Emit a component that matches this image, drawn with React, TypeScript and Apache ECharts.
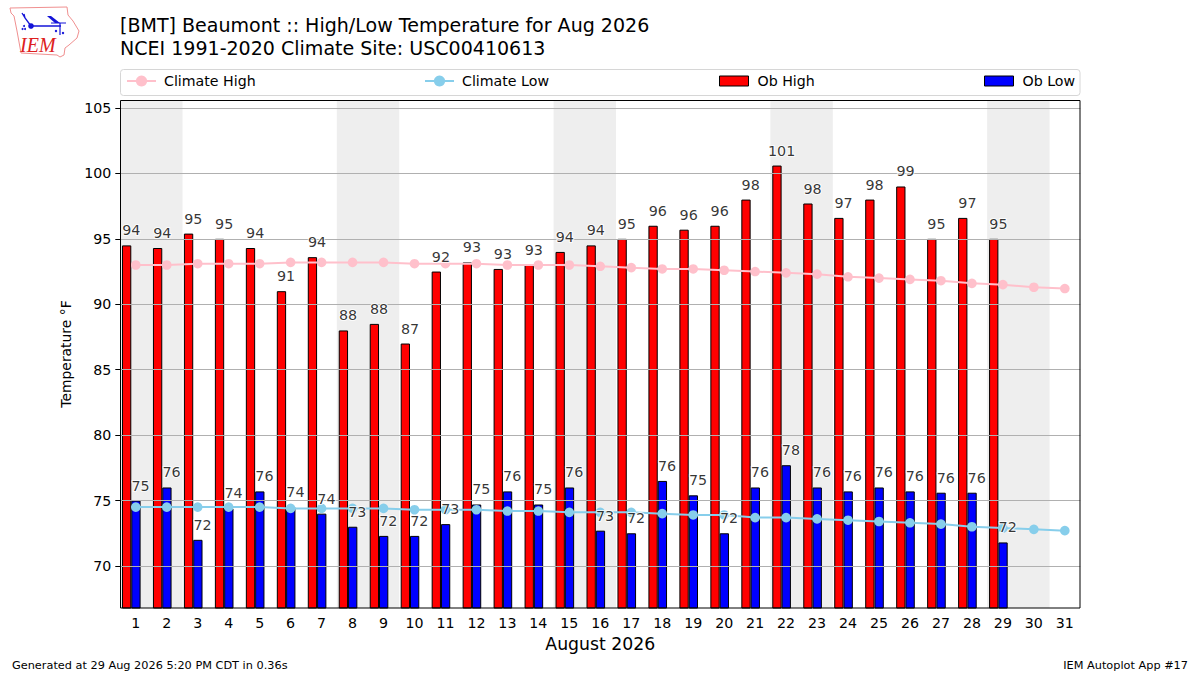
import React, { useEffect, useRef } from "react";
import * as echarts from "echarts";

const days = ["1","2","3","4","5","6","7","8","9","10","11","12","13","14","15","16","17","18","19","20","21","22","23","24","25","26","27","28","29","30","31"];
const weekendDays = ["1","2","8","9","15","16","22","23","29","30"];
const obHigh = [94.5,94.3,95.4,95.0,94.3,91.0,93.6,88.0,88.5,87.0,92.5,93.2,92.7,93.0,94.0,94.5,95.0,96.0,95.7,96.0,98.0,100.6,97.7,96.6,98.0,99.0,95.0,96.6,95.0,null,null];
const obLow = [75.0,76.0,72.0,74.4,75.7,74.5,74.0,73.0,72.3,72.3,73.2,74.7,75.7,74.7,76.0,72.7,72.5,76.5,75.4,72.5,76.0,77.7,76.0,75.7,76.0,75.7,75.6,75.6,71.8,null,null];
const highLabels = [94,94,95,95,94,91,94,88,88,87,92,93,93,93,94,94,95,96,96,96,98,101,98,97,98,99,95,97,95];
const lowLabels = [75,76,72,74,76,74,74,73,72,72,73,75,76,75,76,73,72,76,75,72,76,78,76,76,76,76,76,76,72];
const climateHigh = [93.0,93.0,93.1,93.1,93.1,93.2,93.2,93.2,93.2,93.1,93.1,93.1,93.0,93.0,93.0,92.9,92.8,92.7,92.7,92.6,92.5,92.4,92.3,92.1,92.0,91.9,91.8,91.6,91.5,91.3,91.2];
const climateLow = [74.5,74.5,74.5,74.5,74.5,74.4,74.4,74.4,74.4,74.3,74.3,74.3,74.2,74.2,74.1,74.1,74.1,74.0,73.9,73.9,73.7,73.7,73.6,73.5,73.4,73.3,73.2,73.0,72.9,72.8,72.7];
const yTicks = [70,75,80,85,90,95,100,105];
const yMin = 66.79;
const yMax = 105.61;

const FONT = "DejaVu Sans";
const iowa = [[10,8],[67,7],[68,15],[73,21],[79,31],[77,38],[69,45],[65,48],[64,55],[60,57],[57,55],[21,53],[17,31],[14,16],[11,13]];
const BLUE = "#1414d8";

export default function App() {
  const ref = useRef<HTMLDivElement>(null);
  useEffect(() => {
    const chart = echarts.init(ref.current!, null, { renderer: "svg" });
    const legendBase = (name: string, left: number, h: number, icon?: string) => ({
      data: [icon ? { name, icon, itemStyle: { borderWidth: 1, borderColor: "#000" } } : { name }],
      left, top: 74, padding: 0, itemWidth: 29, itemHeight: h, itemGap: 0, selectedMode: false,
      textStyle: { fontFamily: FONT, fontSize: 14.2, color: "#000", padding: [0, 0, 0, icon ? 4 : 3] },
    });
    const dataLabel = (labels: number[], dx: number) => ({
      show: true, position: "top", distance: 0, offset: [dx, -8],
      fontFamily: FONT, fontSize: 14.3, color: "#000",
      textBorderColor: "#fff", textBorderWidth: 2,
      formatter: (p: any) => String(labels[p.dataIndex]),
    });
    chart.setOption({
      animation: false,
      backgroundColor: "#fff",
      title: {
        text: "[BMT] Beaumont :: High/Low Temperature for Aug 2026\nNCEI 1991-2020 Climate Site: USC00410613",
        left: 115, top: 8.5,
        textStyle: { fontFamily: FONT, fontSize: 19.05, fontWeight: "normal", color: "#000", lineHeight: 23 },
      },
      legend: [
        legendBase("Climate High", 126, 14),
        legendBase("Climate Low", 424, 14),
        legendBase("Ob High", 719, 10, "rect"),
        legendBase("Ob Low", 984, 10, "rect"),
      ],
      grid: [
        { left: 120.3, top: 100, width: 960, height: 508 },
        { left: 115.8, top: 100, width: 960, height: 508 },
      ],
      xAxis: [
        {
          type: "category", data: days, gridIndex: 0, boundaryGap: true,
          axisLine: { show: false },
          axisTick: { alignWithLabel: true, length: 5, lineStyle: { color: "#000", width: 1 } },
          axisLabel: { interval: 0, margin: 8, fontFamily: FONT, fontSize: 14.2, color: "#000" },
          splitLine: { show: false },
          name: "August 2026", nameLocation: "middle", nameGap: 27,
          nameTextStyle: { fontFamily: FONT, fontSize: 17.3, color: "#000" },
        },
        { type: "category", data: days, gridIndex: 1, show: false },
      ],
      yAxis: [
        {
          type: "value", gridIndex: 0, min: yMin, max: yMax, z: 3,
          axisLine: { show: false },
          axisTick: { show: true, length: 5, customValues: yTicks, lineStyle: { color: "#000", width: 1 } },
          axisLabel: { margin: 9, customValues: yTicks, fontFamily: FONT, fontSize: 14.2, color: "#000" },
          splitLine: { show: true, lineStyle: { color: "#b0b0b0", width: 1 } },
          name: "Temperature °F", nameLocation: "middle", nameGap: 41,
          nameTextStyle: { fontFamily: FONT, fontSize: 13.9, color: "#000" },
        },
        { type: "value", gridIndex: 1, min: yMin, max: yMax, show: false },
      ],
      series: [
        {
          name: "Weekend", type: "bar", xAxisIndex: 0, yAxisIndex: 0, z: 1, barWidth: 31.5, silent: true,
          itemStyle: { color: "#eeeeee" },
          data: days.map((d) => (weekendDays.includes(d) ? yMax : null)),
        },
        {
          name: "Ob High", type: "bar", xAxisIndex: 1, yAxisIndex: 1, z: 2, barWidth: 9.3, barGap: "0%",
          itemStyle: { color: "#ff0000", borderColor: "#000", borderWidth: 1 },
          data: obHigh,
        },
        {
          name: "Ob Low", type: "bar", xAxisIndex: 1, yAxisIndex: 1, z: 2, barWidth: 9.3, barGap: "0%",
          itemStyle: { color: "#0000ff", borderColor: "#000", borderWidth: 1 },
          data: obLow,
        },
        {
          name: "Climate High", type: "line", xAxisIndex: 0, yAxisIndex: 0, z: 4,
          symbol: "circle", symbolSize: 9.6, showAllSymbol: true,
          lineStyle: { color: "#ffc0cb", width: 2 }, itemStyle: { color: "#ffc0cb" },
          data: climateHigh,
        },
        {
          name: "Climate Low", type: "line", xAxisIndex: 0, yAxisIndex: 0, z: 4,
          symbol: "circle", symbolSize: 9.6, showAllSymbol: true,
          lineStyle: { color: "#87ceeb", width: 2 }, itemStyle: { color: "#87ceeb" },
          data: climateLow,
        },
        {
          name: "High Labels", type: "scatter", xAxisIndex: 1, yAxisIndex: 1, z: 6, symbolSize: 0, silent: true,
          label: dataLabel(highLabels, 0), data: obHigh,
        },
        {
          name: "Low Labels", type: "scatter", xAxisIndex: 1, yAxisIndex: 1, z: 6, symbolSize: 0, silent: true,
          label: dataLabel(lowLabels, 9.3), data: obLow,
        },
      ],
      graphic: [
        { type: "rect", z: 0, shape: { x: 120.5, y: 69.5, width: 959.5, height: 26, r: 3 }, style: { fill: "#fff", stroke: "#d6d6d6", lineWidth: 1 } },
        { type: "rect", z: 20, shape: { x: 120.5, y: 100.5, width: 959.5, height: 507.5 }, style: { fill: "none", stroke: "#000", lineWidth: 1 } },
        { type: "polygon", z: 1, shape: { points: iowa }, style: { fill: "#fff", stroke: "#f09090", lineWidth: 1 } },
        { type: "polyline", z: 2, shape: { points: [[22,13],[25,18],[24,14],[25,18],[31,26]] }, style: { stroke: BLUE, lineWidth: 1.3, fill: "none" } },
        { type: "line", z: 2, shape: { x1: 31, y1: 26, x2: 61, y2: 26 }, style: { stroke: BLUE, lineWidth: 1.5 } },
        { type: "circle", z: 2, shape: { cx: 31, cy: 26, r: 2.8 }, style: { fill: BLUE } },
        { type: "polygon", z: 2, shape: { points: [[47,16],[51,16],[60,23],[55,23]] }, style: { fill: BLUE } },
        { type: "line", z: 2, shape: { x1: 51, y1: 23, x2: 66, y2: 23 }, style: { stroke: BLUE, lineWidth: 1 } },
        { type: "line", z: 2, shape: { x1: 60, y1: 23, x2: 60, y2: 35 }, style: { stroke: BLUE, lineWidth: 1.2 } },
        { type: "circle", z: 2, shape: { cx: 24, cy: 26, r: 1 }, style: { fill: BLUE } },
        { type: "circle", z: 2, shape: { cx: 25, cy: 29, r: 1 }, style: { fill: BLUE } },
        { type: "circle", z: 2, shape: { cx: 22.5, cy: 29, r: 1 }, style: { fill: BLUE } },
        { type: "circle", z: 2, shape: { cx: 56, cy: 31, r: 1.2 }, style: { fill: BLUE } },
        { type: "circle", z: 2, shape: { cx: 63, cy: 33, r: 1.2 }, style: { fill: BLUE } },
        { type: "text", z: 2, x: 20, y: 34.5, style: { text: "IEM", fontFamily: "Liberation Serif", fontStyle: "italic", fontSize: 20, fill: "#dd2020" } },
        { type: "text", z: 2, x: 12, y: 660, style: { text: "Generated at 29 Aug 2026 5:20 PM CDT in 0.36s", fontFamily: FONT, fontSize: 11.3, fill: "#000" } },
        { type: "text", z: 2, x: 1188, y: 660, style: { text: "IEM Autoplot App #17", align: "right", fontFamily: FONT, fontSize: 11.3, fill: "#000" } },
      ],
    });
    return () => chart.dispose();
  }, []);
  return <div ref={ref} style={{ position: "absolute", left: 0, top: 0, width: 1200, height: 675 }} />;
}
